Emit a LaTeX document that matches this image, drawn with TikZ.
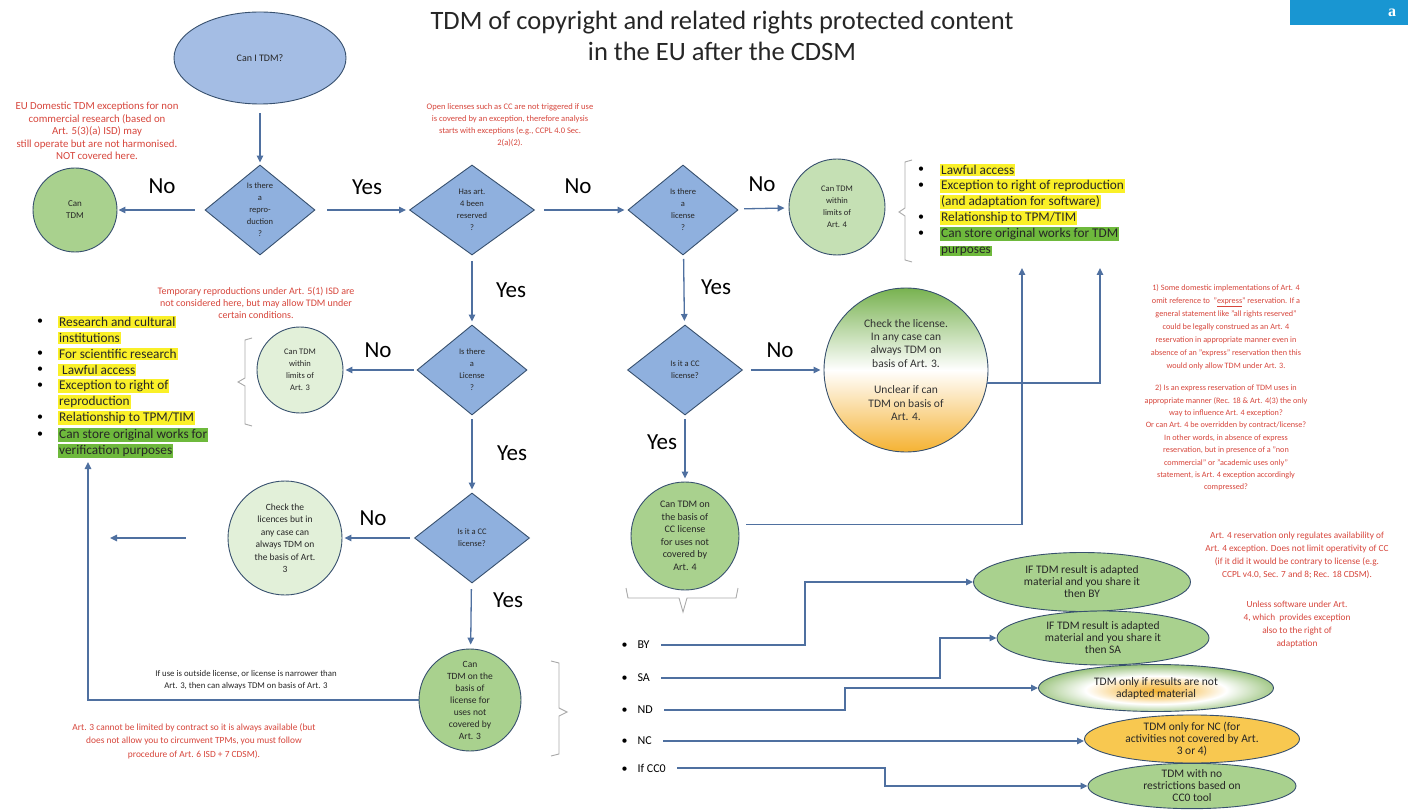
\documentclass[tikz,border=0pt]{standalone}
\usepackage{fontspec}
\setmainfont{Carlito}
\newfontfamily\serifa{Liberation Serif}
\usetikzlibrary{shapes.geometric,arrows.meta}
\newcommand{\myfs}[2]{\fontsize{#1}{#2}\selectfont}
\definecolor{lineblue}{RGB}{79,112,160}
\definecolor{dfill}{RGB}{143,176,222}
\definecolor{sfill}{RGB}{164,189,228}
\definecolor{bord}{RGB}{55,80,110}
\definecolor{gA}{RGB}{169,209,142}
\definecolor{gB}{RGB}{197,224,180}
\definecolor{gC}{RGB}{226,240,217}
\definecolor{redtxt}{RGB}{215,70,60}
\definecolor{hly}{RGB}{250,240,40}
\definecolor{hlg}{RGB}{110,185,60}
\definecolor{ndgreen}{RGB}{112,170,70}
\definecolor{ndorange}{RGB}{245,180,50}
\definecolor{ncyel}{RGB}{248,200,80}
\definecolor{brkgray}{RGB}{170,170,170}
\definecolor{abox}{RGB}{25,150,210}
\definecolor{gtop}{RGB}{120,178,80}
\definecolor{gbot}{RGB}{245,178,50}
\pgfdeclareradialshading{ndshade}{\pgfpoint{0bp}{-3bp}}{color(0bp)=(ndorange); color(8bp)=(ndorange!55!white); color(15bp)=(white); color(23bp)=(ndgreen!50!white); color(31bp)=(ndgreen); color(50bp)=(ndgreen)}
\tikzset{
 conn/.style={draw=lineblue, line width=1.3pt, -{Triangle[length=7pt,width=6.5pt]}},
 diam/.style={diamond, draw=bord, fill=dfill, line width=0.9pt, minimum width=110pt, minimum height=90pt, inner sep=0pt, align=center, font=\myfs{8.5}{12}, text=black!85},
 circ/.style={circle, draw=bord, line width=0.9pt, inner sep=0pt, align=center, font=\myfs{8.5}{12}, text=black!85},
 ell/.style={ellipse, draw=bord, line width=0.9pt, inner sep=0pt, align=center, font=\myfs{11.5}{12}, text=black!85},
 yn/.style={font=\myfs{23}{26}, text=black},
 note/.style={text=redtxt, align=center},
 hl/.style={anchor=west, inner sep=1pt, font=\myfs{13.3}{15}, text=black!85},
 bul/.style={font=\myfs{12}{14}, text=black},
 brk/.style={draw=brkgray, line width=0.9pt},
}
\begin{document}
\begin{tikzpicture}[x=1pt,y=-1pt]
\useasboundingbox (0,0) rectangle (1408,810);
\fill[white] (0,0) rectangle (1408,810);
% corner tag
\fill[abox] (1290,0) rectangle (1408,25);
\node[text=white, font=\serifa\bfseries\myfs{16}{16}] (tag) at (1392,13) {a};
% title
\node[font=\myfs{26.5}{31}, align=center, text=black!85] (title) at (722,36) {TDM of copyright and related rights protected content\\in the EU after the CDSM};

% shapes
\node[ellipse, draw=bord, fill=sfill, line width=0.9pt, minimum width=172pt, minimum height=92pt, font=\myfs{10}{12}, text=black!85] (start) at (260,58) {Can I TDM?};
\node[diam] (d1) at (260,210) {Is there\\a\\repro-\\duction\\?};
\node[circ, fill=gA, minimum size=84pt, font=\myfs{9}{12}] (c0) at (75,210) {Can\\TDM};
\node[diam, minimum width=125pt] (d2) at (472,210) {Has art.\\4 been\\reserved\\?};
\node[diam] (d3) at (683,210) {Is there\\a\\license\\?};
\node[circ, fill=gB, minimum size=96pt] (c4) at (837,207) {Can TDM\\within\\limits of\\Art. 4};
\node[diam] (d4) at (472,370) {Is there\\a\\License\\?};
\node[circ, fill=gC, minimum size=86pt] (c3) at (300,370) {Can TDM\\within\\limits of\\Art. 3};
\node[diam, minimum width=115pt] (d5) at (472,538) {Is it a CC\\license?};
\node[circ, fill=gC, minimum size=114pt, font=\myfs{9.5}{12.5}] (ccheck) at (285,538) {Check the\\licences but in\\any case can\\always TDM on\\the basis of Art.\\3};
\node[circ, fill=gA, minimum size=102pt, font=\myfs{9.5}{12}] (cl3) at (470,700) {Can\\TDM on the\\basis of\\license for\\uses not\\covered by\\Art. 3};
\node[diam, minimum width=115pt] (d6) at (685,370) {Is it a CC\\license?};
\node[circle, draw=bord, line width=0.9pt, inner sep=0pt, minimum size=164pt, top color=gtop, bottom color=gbot, middle color=white, align=center, font=\myfs{11.5}{13.3}, text=black!80] (cgrad) at (906,370) {Check the license.\\In any case can\\always TDM on\\basis of Art. 3.\\[13.3pt]Unclear if can\\TDM on basis of\\Art. 4.};
\node[circ, fill=gA, minimum size=108pt, font=\myfs{10}{12.5}] (ccc) at (685,536) {Can TDM on\\the basis of\\CC license\\for uses not\\covered by\\Art. 4};

% ellipses
\node[ell, fill=gA, minimum width=217pt, minimum height=59pt] (e1) at (1082,582) {IF TDM result is adapted\\material and you share it\\then BY};
\node[ell, fill=gA, minimum width=212pt, minimum height=54pt] (e2) at (1103,638) {IF TDM result is adapted\\material and you share it\\then SA};
\node[ell, shading=ndshade, minimum width=235pt, minimum height=47pt] (e3) at (1156,688) {TDM only if results are not\\adapted material};
\node[ell, fill=ncyel, minimum width=215pt, minimum height=48pt] (e4) at (1192,739) {TDM only for NC (for\\activities not covered by Art.\\3 or 4)};
\node[ell, fill=gA, minimum width=208pt, minimum height=45pt] (e5) at (1192,786) {TDM with no\\restrictions based on\\CC0 tool};

% Yes / No labels
\node[yn] (n1) at (162,186) {No};
\node[yn] (y1) at (367,187) {Yes};
\node[yn] (n2) at (578,186) {No};
\node[yn] (n3) at (762,184) {No};
\node[yn] (y2) at (511,290) {Yes};
\node[yn] (n4) at (378,350) {No};
\node[yn] (y3) at (512,453) {Yes};
\node[yn] (n5) at (373,518) {No};
\node[yn] (y4) at (508,600) {Yes};
\node[yn] (y5) at (716,287) {Yes};
\node[yn] (n6) at (780,350) {No};
\node[yn] (y6) at (662,442) {Yes};

% connectors
\draw[conn, shorten <=9pt, shorten >=2pt] (start) -- (d1);
\draw[conn, shorten <=10pt, shorten >=1pt] (d1) -- (c0);
\draw[conn, shorten <=12pt, shorten >=3pt] (d1) -- (d2);
\draw[conn, shorten <=9pt, shorten >=3pt] (d2) -- (d3);
\draw[conn, shorten <=7pt, shorten >=4pt] (d3) -- (c4);
\draw[conn, shorten <=6pt, shorten >=3pt] (d2) -- (d4);
\draw[conn, shorten <=3pt, shorten >=2pt] (d4) -- (c3);
\draw[conn, shorten <=4pt, shorten >=3pt] (d4) -- (d5);
\draw[conn, shorten <=4pt, shorten >=2pt] (d5) -- (ccheck);
\coordinate (lend) at (110,538);
\draw[conn, shorten <=42pt] (ccheck) -- (lend);
\draw[conn, shorten <=6pt, shorten >=4pt] (d5) -- (cl3);
\draw[conn, shorten <=4pt, shorten >=4pt] (d3) -- (d6);
\draw[conn, shorten <=8pt, shorten >=3pt] (d6) -- (cgrad);
\draw[conn, shorten <=4pt, shorten >=3pt] (d6) -- (ccc);
\coordinate (a4a) at (1022,268);
\coordinate (a4b) at (1100,268);
\draw[conn] (cgrad.-9) -| (a4b);
\draw[conn, shorten <=8pt] (ccc.12) -| (a4a);
\coordinate (l3b) at (88,462);
\draw[conn] (cl3.west) -| (l3b);

% Art.4 list
\node[bul] (b41) at (921,170) {•};
\node[bul] (b42) at (921,186) {•};
\node[bul] (b43) at (921,218) {•};
\node[bul] (b44) at (921,234) {•};
\node[hl, fill=hly] (a41) at (940,170) {Lawful access};
\node[hl, fill=hly] (a42) at (940,186) {Exception to right of reproduction};
\node[hl, fill=hly] (a43) at (940,202) {(and adaptation for software)};
\node[hl, fill=hly] (a44) at (940,218) {Relationship to TPM/TIM};
\node[hl, fill=hlg] (a45) at (940,234) {Can store original works for TDM};
\node[hl, fill=hlg] (a46) at (940,251) {purposes};
\draw[brk] (912,160) -- (905,162) -- (905,208) -- (899,212) -- (905,216) -- (905,260) -- (912,262);

% Art.3 list
\node[bul] (b31) at (40,322) {•};
\node[bul] (b32) at (40,354) {•};
\node[bul] (b33) at (40,370) {•};
\node[bul] (b34) at (40,386) {•};
\node[bul] (b35) at (40,418) {•};
\node[bul] (b36) at (40,435) {•};
\node[hl, fill=hly] (a31) at (58,322) {Research and cultural};
\node[hl, fill=hly] (a32) at (58,338) {institutions};
\node[hl, fill=hly] (a33) at (58,354) {For scientific research};
\node[hl, fill=hly] (a34) at (58,370) {\ Lawful access};
\node[hl, fill=hly] (a35) at (58,386) {Exception to right of};
\node[hl, fill=hly] (a36) at (58,402) {reproduction};
\node[hl, fill=hly] (a37) at (58,418) {Relationship to TPM/TIM};
\node[hl, fill=hlg] (a38) at (58,435) {Can store original works for};
\node[hl, fill=hlg] (a39) at (58,451) {verification purposes};
\draw[brk] (252,338) -- (245,340) -- (245,378) -- (238,382) -- (245,386) -- (245,424) -- (252,426);

% brace right of cl3
\draw[brk] (551,661) -- (559,663) -- (559,708) -- (567,712) -- (559,716) -- (559,754) -- (551,756);
% brace under ccc
\draw[brk] (626,588) -- (628,598) -- (679,598) -- (683,612) -- (687,598) -- (736,598) -- (738,588);

% CC elements list
\node[bul, anchor=west] (by) at (618,645) {•\hspace{10pt}BY};
\node[bul, anchor=west] (sa) at (618,678) {•\hspace{10pt}SA};
\node[bul, anchor=west] (nd) at (618,710) {•\hspace{10pt}ND};
\node[bul, anchor=west] (nc) at (618,741) {•\hspace{10pt}NC};
\node[bul, anchor=west] (cc0) at (618,768) {•\hspace{10pt}If CC0};
\draw[conn, shorten <=8pt] (by.east) -- (805,645) |- (e1.west);
\draw[conn, shorten <=8pt] (sa.east) -- (940,678) |- (e2.west);
\draw[conn, shorten <=8pt] (nd.east) -- (845,710) |- (e3.west);
\draw[conn, shorten <=8pt] (nc.east) -- (e4.west |- nc.east);
\draw[conn, shorten <=8pt] (cc0.east) -- (885,768) |- (e5.west);

% notes
\node[note, font=\myfs{10.8}{12.5}] (nt1) at (97,131) {EU Domestic TDM exceptions for non\\commercial research (based on\\Art. 5(3)(a) ISD) may\\still operate but are not harmonised.\\NOT covered here.};
\node[note, font=\myfs{8.5}{12}] (nt2) at (510,125) {Open licenses such as CC are not triggered if use\\is covered by an exception, therefore analysis\\starts with exceptions (e.g., CCPL 4.0 Sec.\\2(a)(2).};
\node[note, font=\myfs{10}{12.3}] (nt3) at (256,303) {Temporary reproductions under Art. 5(1) ISD are\\not considered here, but may allow TDM under\\certain conditions.};
\node[note, font=\myfs{8.2}{13}] (nt4) at (1226,327) {1) Some domestic implementations of Art. 4\\omit reference to \ "\underline{express}" reservation. If a\\general statement like "all rights reserved"\\could be legally construed as an Art. 4\\reservation in appropriate manner even in\\absence of an "express" reservation then this\\would only allow TDM under Art. 3.};
\node[note, font=\myfs{8.2}{12.4}] (nt5) at (1226,438) {2) Is an express reservation of TDM uses in\\appropriate manner (Rec. 18 \& Art. 4(3) the only\\way to influence Art. 4 exception?\\Or can Art. 4 be overridden by contract/license?\\In other words, in absence of express\\reservation, but in presence of a "non\\commercial" or "academic uses only"\\statement, is Art. 4 exception accordingly\\compressed?};
\node[note, font=\myfs{9.3}{13}] (nt6) at (1297,555) {Art. 4 reservation only regulates availability of\\Art. 4 exception. Does not limit operativity of CC\\(if it did it would be contrary to license (e.g.\\CCPL v4.0, Sec. 7 and 8; Rec. 18 CDSM).};
\node[note, font=\myfs{9.3}{13}] (nt7) at (1297,625) {Unless software under Art.\\4, which \ provides exception\\also to the right of\\adaptation};
\node[align=center, text=black!85, font=\myfs{8.8}{12}] (nt8) at (246,680) {If use is outside license, or license is narrower than\\Art. 3, then can always TDM on basis of Art. 3};
\node[note, font=\myfs{9.4}{13.5}] (nt9) at (194,741) {Art. 3 cannot be limited by contract so it is always available (but\\does not allow you to circumvent TPMs, you must follow\\procedure of Art. 6 ISD + 7 CDSM).};
\end{tikzpicture}
\end{document}
